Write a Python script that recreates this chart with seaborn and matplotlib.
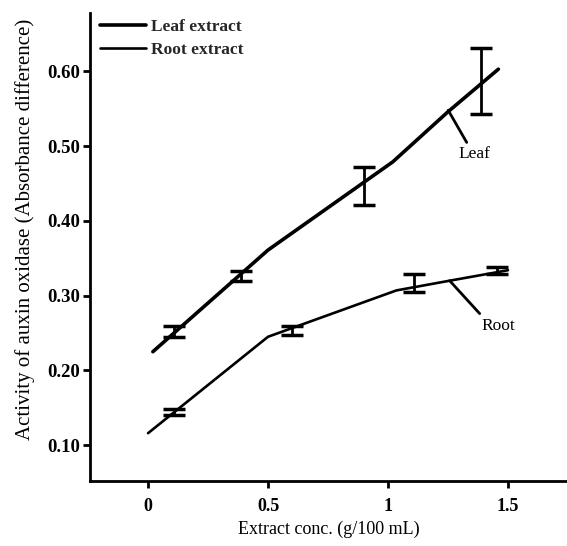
import matplotlib
matplotlib.use("Agg")
import matplotlib.pyplot as plt
import seaborn as sns
import pandas as pd

# Line vertices
leaf_x = [0.02, 0.50, 1.02, 1.25, 1.46]
leaf_y = [0.225, 0.361, 0.479, 0.546, 0.603]
root_x = [0.00, 0.50, 1.035, 1.257, 1.50]
root_y = [0.116, 0.245, 0.307, 0.320, 0.334]

# Error bars (mean, half-range)
leaf_err_x = [0.108, 0.389, 0.90, 1.389]
leaf_err_y = [0.252, 0.326, 0.4465, 0.587]
leaf_err_e = [0.007, 0.007, 0.0255, 0.044]
root_err_x = [0.107, 0.60, 1.107, 1.455]
root_err_y = [0.1445, 0.2535, 0.317, 0.3335]
root_err_e = [0.0045, 0.0055, 0.012, 0.0045]

x_ticks = [0, 0.5, 1, 1.5]
x_tick_labels = ["0", "0.5", "1", "1.5"]
y_ticks = [0.10, 0.20, 0.30, 0.40, 0.50, 0.60]
y_tick_labels = ["0.10", "0.20", "0.30", "0.40", "0.50", "0.60"]

sns.set_theme(style="ticks")
plt.rcParams["font.family"] = ["Liberation Serif", "DejaVu Serif"]

fig = plt.figure(figsize=(5.67, 5.46), dpi=100)
ax = fig.add_axes([0.1587, 0.119, 0.8413, 0.857])

df_leaf = pd.DataFrame({"x": leaf_x, "y": leaf_y})
df_root = pd.DataFrame({"x": root_x, "y": root_y})
sns.lineplot(data=df_leaf, x="x", y="y", ax=ax, color="black", lw=2.6,
             sort=False, label="Leaf extract")
sns.lineplot(data=df_root, x="x", y="y", ax=ax, color="black", lw=1.9,
             sort=False, label="Root extract")

for ex, ey, ee in [(leaf_err_x, leaf_err_y, leaf_err_e),
                   (root_err_x, root_err_y, root_err_e)]:
    ax.errorbar(ex, ey, yerr=ee, fmt="none", ecolor="black", elinewidth=2,
                capsize=8, capthick=2.5)

# annotations
ax.plot([1.251, 1.328], [0.548, 0.505], color="black", lw=2)
ax.text(1.362, 0.49, "Leaf", ha="center", va="center", fontsize=12.5, color="black")
ax.plot([1.257, 1.382], [0.320, 0.276], color="black", lw=2)
ax.text(1.461, 0.260, "Root", ha="center", va="center", fontsize=12.5, color="black")

ax.set_xlim(-0.242, 1.746)
ax.set_ylim(0.052, 0.678)
ax.set_xticks(x_ticks)
ax.set_xticklabels(x_tick_labels, fontsize=13, fontweight="bold")
ax.set_yticks(y_ticks)
ax.set_yticklabels(y_tick_labels, fontsize=13.5, fontweight="bold")
ax.tick_params(direction="out", length=5, width=2, colors="black")
ax.tick_params(axis="x", pad=7)
ax.tick_params(axis="y", pad=2)
ax.set_xlabel("Extract conc. (g/100 mL)", fontsize=13, labelpad=4, color="black")
ax.set_ylabel("Activity of auxin oxidase (Absorbance difference)", fontsize=15,
              color="black")
ax.yaxis.set_label_coords(-0.116, 0.538)

for s in ["top", "right"]:
    ax.spines[s].set_visible(False)
for s in ["left", "bottom"]:
    ax.spines[s].set_linewidth(2)
    ax.spines[s].set_color("black")

leg = ax.legend(loc="upper left", frameon=False, prop={"weight": "bold", "size": 12.5},
                handlelength=2.6, handletextpad=0.3, borderaxespad=0.2,
                labelspacing=0.4, bbox_to_anchor=(0.0, 1.01))

fig.savefig("out.png", dpi=100)
